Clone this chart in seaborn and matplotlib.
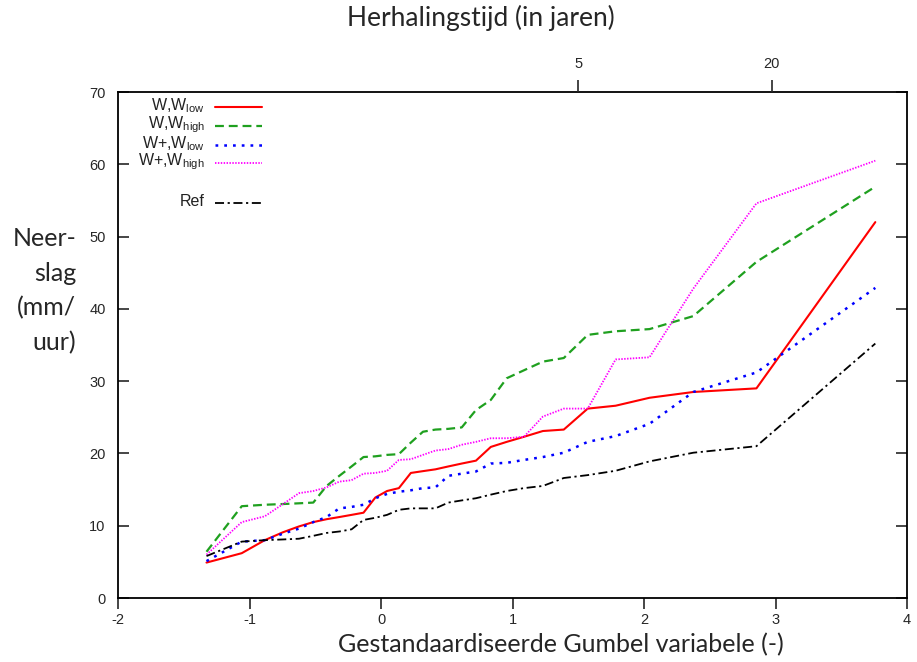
import numpy as np
import pandas as pd
import matplotlib
matplotlib.use("Agg")
import matplotlib.pyplot as plt
import seaborn as sns
from matplotlib.lines import Line2D

# Gumbel reduced variate (plotting positions)
gumbel_x = [-1.327, -1.059, -0.884, -0.745, -0.624, -0.515, -0.414, -0.317, -0.224, -0.133,
            -0.043, 0.046, 0.136, 0.227, 0.319, 0.414, 0.512, 0.614, 0.722, 0.835,
            0.956, 1.087, 1.231, 1.390, 1.572, 1.784, 2.042, 2.375, 2.855, 3.759]

w_wlow = [4.9, 6.2, 8.0, 9.1, 9.9, 10.5, 10.9, 11.2, 11.5, 11.8,
          13.9, 14.8, 15.2, 17.3, 17.55, 17.8, 18.2, 18.6, 19.0, 20.9,
          21.6, 22.3, 23.1, 23.3, 26.2, 26.6, 27.7, 28.5, 29.0, 52.0]

w_whigh = [6.4, 12.7, 12.9, 13.0, 13.1, 13.2, 15.5, 16.9, 18.2, 19.5,
           19.6, 19.8, 19.9, 21.5, 23.0, 23.3, 23.4, 23.6, 26.0, 27.4,
           30.4, 31.5, 32.7, 33.2, 36.4, 36.9, 37.2, 39.0, 46.5, 56.9]

wp_wlow = [5.1, 7.8, 8.0, 8.9, 9.6, 10.5, 11.2, 12.4, 12.6, 12.9,
           13.8, 14.4, 14.7, 14.9, 15.2, 15.3, 16.9, 17.2, 17.5, 18.6,
           18.7, 19.1, 19.5, 20.1, 21.6, 22.4, 24.1, 28.5, 31.2, 42.9]

wp_whigh = [6.0, 10.5, 11.3, 13.0, 14.5, 14.8, 15.3, 16.1, 16.3, 17.2,
            17.3, 17.6, 19.1, 19.2, 19.8, 20.4, 20.6, 21.2, 21.6, 22.1,
            22.1, 22.3, 25.1, 26.2, 26.2, 33.0, 33.3, 42.8, 54.6, 60.5]

ref = [5.8, 7.8, 8.0, 8.1, 8.2, 8.6, 9.0, 9.2, 9.5, 10.8,
       11.1, 11.5, 12.2, 12.4, 12.4, 12.4, 13.2, 13.5, 13.8, 14.3,
       14.8, 15.2, 15.5, 16.6, 17.0, 17.6, 18.9, 20.1, 21.0, 35.2]

series_labels = ["W,W$_{low}$", "W,W$_{high}$", "W+,W$_{low}$", "W+,W$_{high}$", "Ref"]

x_ticks = [-2, -1, 0, 1, 2, 3, 4]
y_ticks = [0, 10, 20, 30, 40, 50, 60, 70]
top_tick_pos = [1.50, 2.97]
top_tick_labels = ["5", "20"]

sns.set_style("white")
plt.rcParams["font.family"] = ["Liberation Sans", "DejaVu Sans"]
plt.rcParams["mathtext.default"] = "regular"

fig = plt.figure(figsize=(9.17, 6.62), dpi=100)
ax = fig.add_axes([118/917, 1-598/662, (907-118)/917, (598-92)/662])

styles = [
    dict(color="#ff0000", linestyle="-", linewidth=1.5),
    dict(color="#1fa01f", linestyle=(0, (4, 2.2)), linewidth=1.6),
    dict(color="#0000ff", linestyle=(0, (1.1, 2.4)), linewidth=1.8),
    dict(color="#ff00ff", linestyle=(0, (0.8, 0.8)), linewidth=1.3),
    dict(color="#000000", linestyle=(0, (5, 2, 1.2, 2)), linewidth=1.3),
]
data = [w_wlow, w_whigh, wp_wlow, wp_whigh, ref]

for vals, st in zip(data, styles):
    df = pd.DataFrame({"x": gumbel_x, "y": vals})
    sns.lineplot(data=df, x="x", y="y", ax=ax, sort=False, legend=False, **st)

ax.set_xlim(-2, 4)
ax.set_ylim(0, 70)
ax.set_xticks(x_ticks)
ax.set_xticklabels([str(t) for t in x_ticks])
ax.set_yticks(y_ticks)
ax.set_yticklabels([str(t) for t in y_ticks])
for s in ax.spines.values():
    s.set_visible(True)
    s.set_linewidth(1.3)
    s.set_color("black")
ax.tick_params(axis="x", direction="out", length=8, width=1.2, pad=3, labelsize=10.5, top=False, bottom=True)
ax.tick_params(axis="y", direction="in", length=8, width=1.2, pad=9, labelsize=10.5, left=True, right=True)

ax.set_xlabel("Gestandaardiseerde Gumbel variabele (-)", fontsize=18, family=["Lato", "DejaVu Sans"])
ax.xaxis.set_label_coords((561-118)/789, (598-645)/506)
ax.xaxis.label.set_va("center")
ax.set_ylabel("Neer-\nslag\n(mm/\nuur)", fontsize=18, family=["Lato", "DejaVu Sans"],
              rotation=0, ha="right", va="center", multialignment="right", linespacing=1.6)
ax.yaxis.set_label_coords((76-118)/789, (598-291)/506)

ax2 = ax.twiny()
ax2.set_xlim(ax.get_xlim())
ax2.set_xticks(top_tick_pos)
ax2.set_xticklabels(top_tick_labels)
ax2.tick_params(axis="x", direction="out", length=9, width=1.2, pad=6, labelsize=10.5)
ax2.set_xlabel("Herhalingstijd (in jaren)", fontsize=19, family=["Lato", "DejaVu Sans"])
ax2.xaxis.set_label_coords((481-118)/789, (598-18)/506)
ax2.xaxis.label.set_va("center")
for s in ax2.spines.values():
    s.set_visible(False)

# manual legend (axes coordinates)
def ax_x(px):
    return (px - 118) / 789

def ax_y(py):
    return (598 - py) / 506

rows_py = [107, 126, 145, 163, 203]
for i, py in enumerate(rows_py):
    ax.text(ax_x(205), ax_y(py - 1), series_labels[i], transform=ax.transAxes,
            ha="right", va="center", fontsize=11.5, color="#222222")
    ln = Line2D([ax_x(215), ax_x(262)], [ax_y(py), ax_y(py)], transform=ax.transAxes, **styles[i])
    ax.add_line(ln)

fig.savefig("out.png", dpi=100)
